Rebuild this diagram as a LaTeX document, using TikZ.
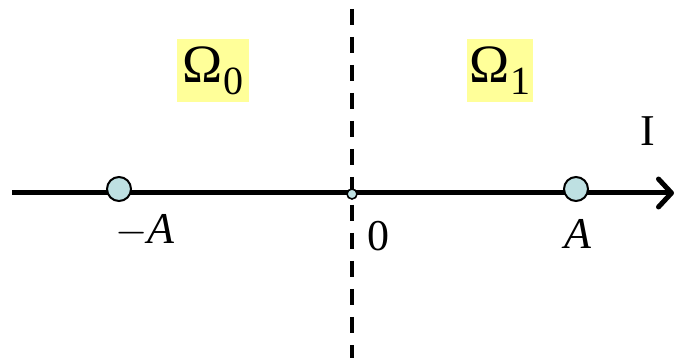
\documentclass[tikz,border=0pt]{standalone}
\usepackage{fontspec}
\setmainfont{Liberation Serif}
\usepackage{tikz}
\usetikzlibrary{arrows.meta,positioning}
\definecolor{regionyellow}{HTML}{FFFF99}
\definecolor{pointcyan}{HTML}{BEE0E2}
\newcommand{\lowsub}[1]{\raisebox{-6pt}{\fontsize{20}{20}\selectfont #1}}
\tikzset{
  axisline/.style={line width=2.5pt,-{Straight Barb[length=6.5pt,width=14pt,line cap=round,line join=round]}},
  divider/.style={line width=2pt,dash pattern=on 8pt off 6pt},
  bigpoint/.style={circle,draw=black,line width=1pt,fill=pointcyan,inner sep=0pt,minimum size=12pt},
  smallpoint/.style={circle,draw=black,line width=0.8pt,fill=pointcyan,inner sep=0pt,minimum size=5pt},
  region/.style={fill=regionyellow,inner sep=0pt,minimum height=31.5pt,font=\fontsize{27}{30}\selectfont},
  axislabel/.style={font=\fontsize{22}{26}\selectfont,inner sep=1pt}
}
\begin{document}
\begin{tikzpicture}[x=0.5pt,y=-0.5pt]
\useasboundingbox (0,0) rectangle (681,358);
% boundary between the two regions
\coordinate (top) at (352,9);
\coordinate (bottom) at (352,358);
\draw[divider] (top) -- (bottom);
% the axis
\coordinate (start) at (12,193);
\coordinate (end) at (674,193);
\draw[axisline] (start) -- (end);
\node[bigpoint] (minusA) at (119,189) {};
\node[smallpoint] (origin) at (352,194) {};
\node[bigpoint] (plusA) at (576,189) {};
% labels
\node[axislabel] (minusAlab) at (145,231) {$-$\textit{A}};
\node[axislabel] (originlab) at (378,236) {0};
\node[axislabel] (plusAlab) at (578,234) {\textit{A}};
\node[axislabel] (Ilab) at (648,131) {I};
\node[region,minimum width=36pt] (omega0) at (213,71) {Ω\lowsub{0}};
\node[region,minimum width=33pt] (omega1) at (500,71) {Ω\lowsub{1}};
\end{tikzpicture}
\end{document}
